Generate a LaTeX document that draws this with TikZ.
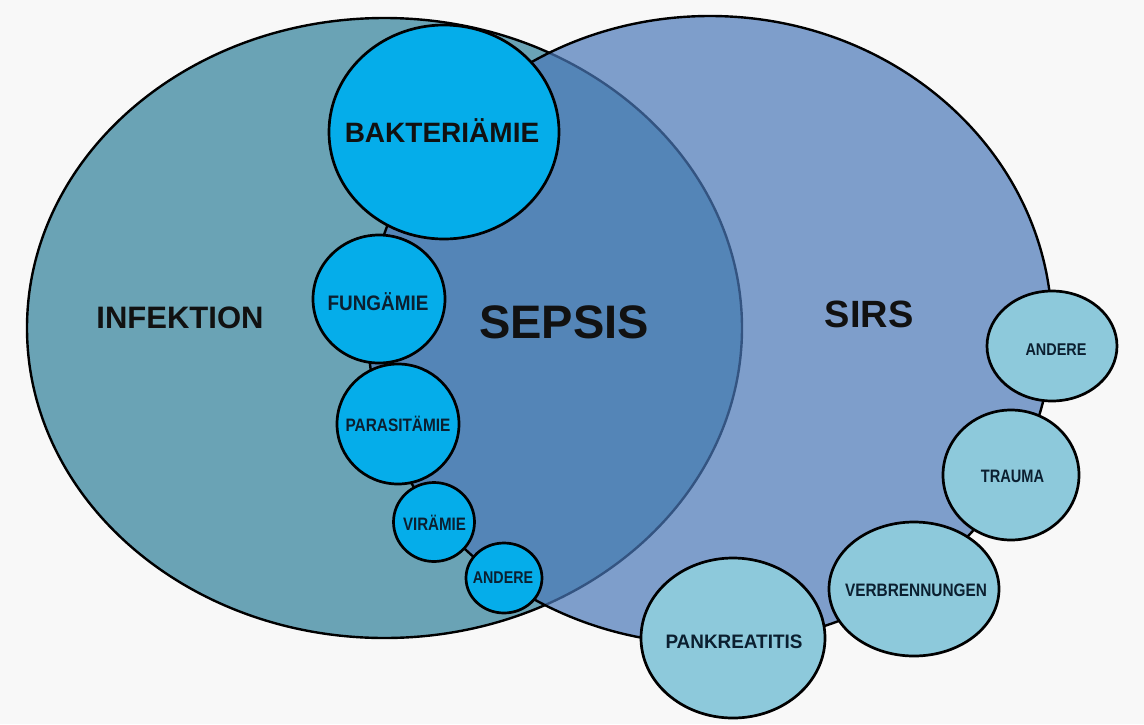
\documentclass[tikz,border=0pt]{standalone}
\usepackage{fontspec}
\setmainfont{Liberation Sans}
\definecolor{bgcol}{HTML}{F8F8F8}
\definecolor{infcol}{HTML}{6AA3B5}
\definecolor{sirscol}{HTML}{4B79B9}
\definecolor{cyancol}{HTML}{05ADEA}
\definecolor{lightcol}{HTML}{8DC9DB}
\definecolor{labdark}{HTML}{0B1F30}
\definecolor{bigdark}{HTML}{111111}
\newcommand\mylbl[3]{\scalebox{#1}[1]{\fontsize{#2}{#2}\selectfont\bfseries #3}}
\begin{document}
\begin{tikzpicture}[x=1pt,y=-1pt,
  bigell/.style={draw=black, line width=2.4pt},
  bubble/.style={draw=black, line width=2.7pt, fill=cyancol},
  sbubble/.style={draw=black, line width=2.7pt, fill=lightcol},
  biglab/.style={inner sep=0pt, anchor=base, text=bigdark},
  smalllab/.style={inner sep=0pt, anchor=base, text=labdark},
]
\fill[bgcol] (0,0) rectangle (1144,724);
\useasboundingbox (0,0) rectangle (1144,724);

% big sets
\path[bigell, fill=infcol] (384.5,328) ellipse (357.5pt and 310pt);
\path[bigell, fill=sirscol, fill opacity=0.7] (710,330) ellipse (342pt and 314pt);

% infection bubbles
\path[bubble] (444,132) ellipse (115pt and 107pt);
\path[bubble] (379,299) ellipse (66pt and 64pt);
\path[bubble] (398,424) ellipse (61pt and 60pt);
\path[bubble] (434,522) ellipse (40.5pt and 39.5pt);
\path[bubble] (504,578) ellipse (38pt and 35pt);

% SIRS bubbles
\path[sbubble] (1052,346) ellipse (65pt and 55pt);
\path[sbubble] (1011,475) ellipse (68pt and 65pt);
\path[sbubble] (914,589) ellipse (85pt and 67pt);
\path[sbubble] (733,638) ellipse (92pt and 80pt);

% labels
\node[biglab] (infektion) at (180,328) {\mylbl{1}{31}{INFEKTION}};
\node[biglab] (sepsis) at (564,338) {\mylbl{1}{47}{SEPSIS}};
\node[biglab] (sirs) at (869,327) {\mylbl{1}{38}{SIRS}};
\node[biglab] (bakt) at (442,142) {\mylbl{1}{28}{BAKTERIÄMIE}};
\node[smalllab] (fung) at (378,310) {\mylbl{0.9}{21}{FUNGÄMIE}};
\node[smalllab] (para) at (398,431) {\mylbl{0.855}{18}{PARASITÄMIE}};
\node[smalllab] (vir) at (434.5,530) {\mylbl{0.84}{18}{VIRÄMIE}};
\node[smalllab] (andl) at (503,583) {\mylbl{0.84}{17}{ANDERE}};
\node[smalllab] (andr) at (1056,355) {\mylbl{0.85}{17}{ANDERE}};
\node[smalllab] (trauma) at (1012.5,482) {\mylbl{0.81}{18}{TRAUMA}};
\node[smalllab] (verb) at (916,596) {\mylbl{0.855}{18}{VERBRENNUNGEN}};
\node[smalllab] (pank) at (734,648) {\mylbl{0.97}{19.5}{PANKREATITIS}};
\end{tikzpicture}
\end{document}
